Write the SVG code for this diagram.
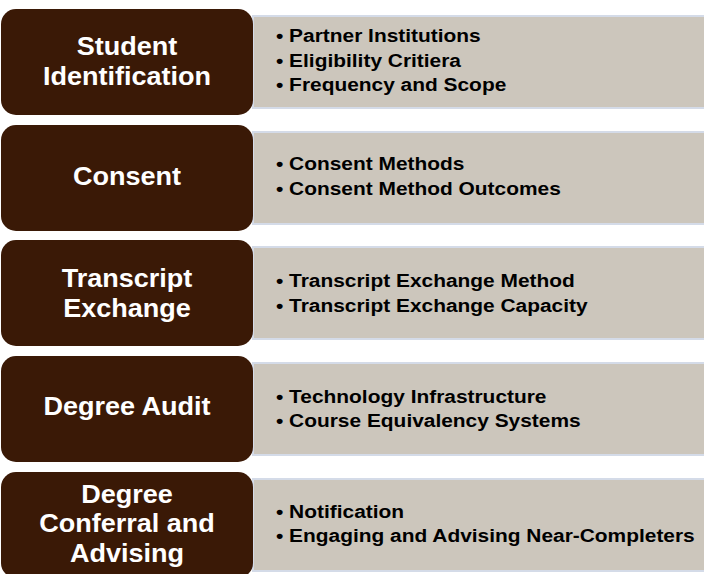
<svg xmlns="http://www.w3.org/2000/svg" width="704" height="574" viewBox="0 0 704 574">
<style>
.dark{fill:#3a1906;}
.grey{fill:#ccc6bc;stroke:#d4dbe8;stroke-width:2;}
.t{font-family:"Liberation Sans",Arial,sans-serif;font-weight:bold;font-size:26px;fill:#ffffff;text-anchor:middle;}
.b{font-family:"Liberation Sans",Arial,sans-serif;font-weight:bold;font-size:19px;fill:#000000;}
</style>
<rect width="704" height="574" fill="#ffffff"/>
<g id="connectors"></g>
<g id="row1">
<rect class="grey" x="253" y="16" width="460" height="92"/>
<rect class="dark" x="1" y="9" width="252" height="106" rx="15"/>
<g transform="translate(127,0) scale(1.04,1)"><text class="t" x="0" y="55">Student</text><text class="t" x="0" y="85">Identification</text></g>
<g transform="translate(276,0) scale(1.1,1)"><text class="b" x="0" y="42.5">• Partner Institutions</text><text class="b" x="0" y="67">• Eligibility Critiera</text><text class="b" x="0" y="91.5">• Frequency and Scope</text></g>
</g>
<g id="row2">
<rect class="grey" x="253" y="132" width="460" height="92"/>
<rect class="dark" x="1" y="125" width="252" height="106" rx="15"/>
<g transform="translate(127,0) scale(1.04,1)"><text class="t" x="0" y="185">Consent</text></g>
<g transform="translate(276,0) scale(1.1,1)"><text class="b" x="0" y="170">• Consent Methods</text><text class="b" x="0" y="195">• Consent Method Outcomes</text></g>
</g>
<g id="row3">
<rect class="grey" x="253" y="247" width="460" height="92"/>
<rect class="dark" x="1" y="240" width="252" height="106" rx="15"/>
<g transform="translate(127,0) scale(1.04,1)"><text class="t" x="0" y="287">Transcript</text><text class="t" x="0" y="317">Exchange</text></g>
<g transform="translate(276,0) scale(1.1,1)"><text class="b" x="0" y="287">• Transcript Exchange Method</text><text class="b" x="0" y="312">• Transcript Exchange Capacity</text></g>
</g>
<g id="row4">
<rect class="grey" x="253" y="363" width="460" height="92"/>
<rect class="dark" x="1" y="356" width="252" height="106" rx="15"/>
<g transform="translate(127,0) scale(1.04,1)"><text class="t" x="0" y="415">Degree Audit</text></g>
<g transform="translate(276,0) scale(1.1,1)"><text class="b" x="0" y="403">• Technology Infrastructure</text><text class="b" x="0" y="427">• Course Equivalency Systems</text></g>
</g>
<g id="row5">
<rect class="grey" x="253" y="479" width="460" height="92"/>
<rect class="dark" x="1" y="472" width="252" height="106" rx="15"/>
<g transform="translate(127,0) scale(1.04,1)"><text class="t" x="0" y="503">Degree</text><text class="t" x="0" y="532">Conferral and</text><text class="t" x="0" y="562">Advising</text></g>
<g transform="translate(276,0) scale(1.1,1)"><text class="b" x="0" y="518">• Notification</text><text class="b" x="0" y="542">• Engaging and Advising Near-Completers</text></g>
</g>
</svg>
